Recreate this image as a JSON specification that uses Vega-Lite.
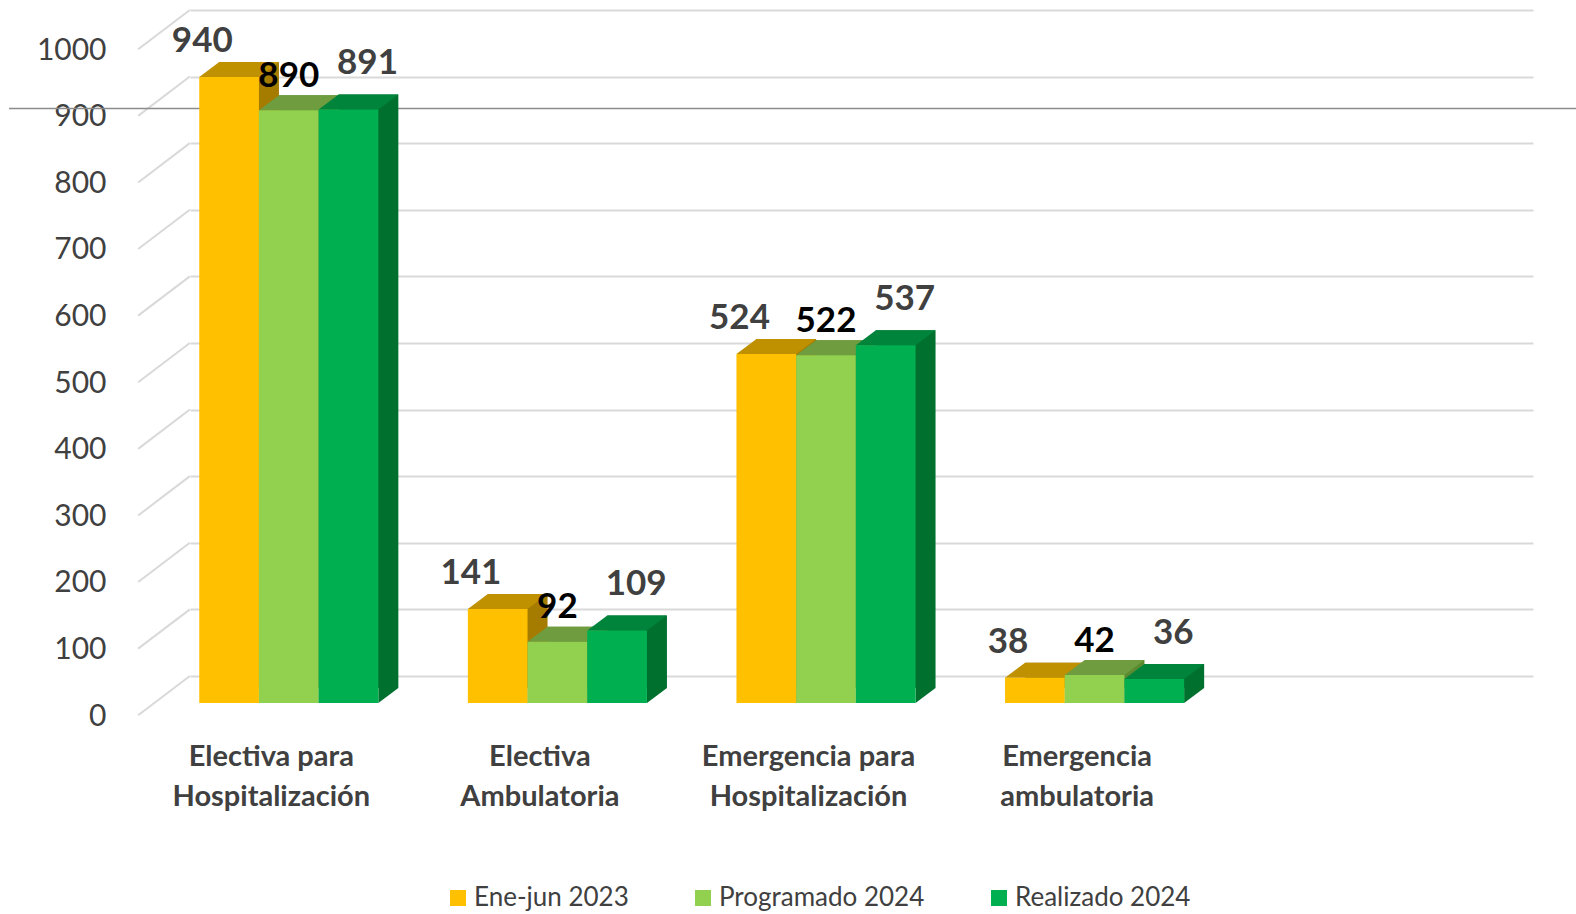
{
  "$schema": "https://vega.github.io/schema/vega-lite/v6.json",
  "autosize": {"type": "none"},
  "padding": {"left": 190, "top": 10, "right": 43, "bottom": 238},
  "width": 1343,
  "height": 666,
  "background": "white",
  "datasets": {
    "bars": [
      {"cat": "Electiva para Hospitalización", "serie": "Ene-jun 2023", "v": 940},
      {"cat": "Electiva para Hospitalización", "serie": "Programado 2024", "v": 890},
      {"cat": "Electiva para Hospitalización", "serie": "Realizado 2024", "v": 891},
      {"cat": "Electiva Ambulatoria", "serie": "Ene-jun 2023", "v": 141},
      {"cat": "Electiva Ambulatoria", "serie": "Programado 2024", "v": 92},
      {"cat": "Electiva Ambulatoria", "serie": "Realizado 2024", "v": 109},
      {"cat": "Emergencia para Hospitalización", "serie": "Ene-jun 2023", "v": 524},
      {"cat": "Emergencia para Hospitalización", "serie": "Programado 2024", "v": 522},
      {"cat": "Emergencia para Hospitalización", "serie": "Realizado 2024", "v": 537},
      {"cat": "Emergencia ambulatoria", "serie": "Ene-jun 2023", "v": 38},
      {"cat": "Emergencia ambulatoria", "serie": "Programado 2024", "v": 42},
      {"cat": "Emergencia ambulatoria", "serie": "Realizado 2024", "v": 36}
    ],
    "grid": [
      {"g": 0}, {"g": 100}, {"g": 200}, {"g": 300}, {"g": 400}, {"g": 500},
      {"g": 600}, {"g": 700}, {"g": 800}, {"g": 900}, {"g": 1000}
    ],
    "ref": [{"r": 891}]
  },
  "data": {"name": "bars"},
  "encoding": {
    "x": {
      "field": "cat", "type": "nominal",
      "scale": {"type": "band", "domain": ["Electiva para Hospitalización", "Electiva Ambulatoria", "Emergencia para Hospitalización", "Emergencia ambulatoria", ""], "paddingInner": 0, "paddingOuter": 0},
      "axis": {"title": null, "labelAngle": 0, "labelExpr": "datum.label === '' ? '' : [slice(datum.label, 0, lastindexof(datum.label, ' ')), slice(datum.label, lastindexof(datum.label, ' ') + 1)]", "labelFont": "Lato", "labelFontWeight": "bold", "labelFontSize": 29, "labelColor": "#404040", "labelLineHeight": 40, "labelBaseline": "top", "labelPadding": 66, "labelOffset": -53, "domain": false, "ticks": false, "grid": false, "labelLimit": 500, "labelOverlap": false}
    },
    "y": {
      "field": "v", "type": "quantitative", "stack": null,
      "scale": {"domain": [0, 1000], "nice": false},
      "axis": {"title": null, "format": "d", "grid": true, "gridColor": "#D9D9D9", "gridWidth": 2, "domain": false, "ticks": false, "labelFont": "Lato", "labelFontSize": 30, "labelColor": "#404040", "labelPadding": 84, "labelOffset": 40, "values": [0, 100, 200, 300, 400, 500, 600, 700, 800, 900, 1000]}
    }
  },
  "layer": [
    {
      "data": {"name": "grid"},
      "mark": {"type": "point", "shape": "M -0.517 0.393 L 0.517 -0.393", "size": 10000, "filled": false, "stroke": "#D9D9D9", "strokeWidth": 2, "opacity": 1, "xOffset": -26, "yOffset": 19.6},
      "encoding": {
        "x": {"datum": "Electiva para Hospitalización", "type": "nominal", "bandPosition": 0, "title": null},
        "y": {"field": "g", "type": "quantitative", "title": null}
      }
    },
    {
      "data": {"name": "ref"},
      "mark": {"type": "point", "shape": "M -1 0 L 1 0", "size": 2455489, "filled": false, "stroke": "#8C8C8C", "strokeWidth": 1.5, "opacity": 1, "xOffset": 602.5, "yOffset": 26},
      "encoding": {
        "x": {"datum": "Electiva para Hospitalización", "type": "nominal", "bandPosition": 0, "title": null},
        "y": {"field": "r", "type": "quantitative", "title": null}
      }
    },
    {"transform": [{"filter": "datum.serie === 'Ene-jun 2023'"}], "mark": {"type": "bar", "width": 59.7, "color": "#A67C00", "xOffset": -75.2, "yOffset": 12, "y2Offset": 12}, "encoding": {"y2": {"datum": 0}}},
    {"transform": [{"filter": "datum.serie === 'Ene-jun 2023'"}], "mark": {"type": "point", "shape": "M -0.597 0 L 0.597 0 L 0.997 -0.3 L -0.197 -0.3 Z", "size": 10000, "filled": true, "color": "#BF9000", "opacity": 1, "strokeWidth": 0, "xOffset": -95.2, "yOffset": 27}},
    {"transform": [{"filter": "datum.serie === 'Ene-jun 2023'"}], "mark": {"type": "point", "shape": "M 0.597 -0.3 L 0.597 0 L 0.997 -0.3 Z", "size": 10000, "filled": true, "color": "#A67C00", "opacity": 1, "strokeWidth": 0, "xOffset": -95.2, "yOffset": 27}, "encoding": {"y": {"datum": 0, "type": "quantitative", "title": null}}},
    {"transform": [{"filter": "datum.serie === 'Ene-jun 2023'"}], "mark": {"type": "bar", "width": 59.7, "xOffset": -95.2, "yOffset": 27, "y2Offset": 27},
     "encoding": {"y2": {"datum": 0}, "color": {"field": "serie", "type": "nominal", "scale": {"domain": ["Ene-jun 2023", "Programado 2024", "Realizado 2024"], "range": ["#FFC000", "#92D050", "#00B050"]}, "legend": {"title": null}}}},

    {"transform": [{"filter": "datum.serie === 'Programado 2024'"}], "mark": {"type": "bar", "width": 59.7, "color": "#5B8A30", "xOffset": -15.5, "yOffset": 12, "y2Offset": 12}, "encoding": {"y2": {"datum": 0}}},
    {"transform": [{"filter": "datum.serie === 'Programado 2024'"}], "mark": {"type": "point", "shape": "M -0.597 0 L 0.597 0 L 0.997 -0.3 L -0.197 -0.3 Z", "size": 10000, "filled": true, "color": "#6E9C3E", "opacity": 1, "strokeWidth": 0, "xOffset": -35.5, "yOffset": 27}},
    {"transform": [{"filter": "datum.serie === 'Programado 2024'"}], "mark": {"type": "point", "shape": "M 0.597 -0.3 L 0.597 0 L 0.997 -0.3 Z", "size": 10000, "filled": true, "color": "#5B8A30", "opacity": 1, "strokeWidth": 0, "xOffset": -35.5, "yOffset": 27}, "encoding": {"y": {"datum": 0, "type": "quantitative", "title": null}}},
    {"transform": [{"filter": "datum.serie === 'Programado 2024'"}], "mark": {"type": "bar", "width": 59.7, "xOffset": -35.5, "yOffset": 27, "y2Offset": 27},
     "encoding": {"y2": {"datum": 0}, "color": {"field": "serie", "type": "nominal", "scale": {"domain": ["Ene-jun 2023", "Programado 2024", "Realizado 2024"], "range": ["#FFC000", "#92D050", "#00B050"]}, "legend": {"title": null}}}},

    {"transform": [{"filter": "datum.serie === 'Realizado 2024'"}], "mark": {"type": "bar", "width": 59.7, "color": "#00702F", "xOffset": 44.2, "yOffset": 12, "y2Offset": 12}, "encoding": {"y2": {"datum": 0}}},
    {"transform": [{"filter": "datum.serie === 'Realizado 2024'"}], "mark": {"type": "point", "shape": "M -0.597 0 L 0.597 0 L 0.997 -0.3 L -0.197 -0.3 Z", "size": 10000, "filled": true, "color": "#00843C", "opacity": 1, "strokeWidth": 0, "xOffset": 24.2, "yOffset": 27}},
    {"transform": [{"filter": "datum.serie === 'Realizado 2024'"}], "mark": {"type": "point", "shape": "M 0.597 -0.3 L 0.597 0 L 0.997 -0.3 Z", "size": 10000, "filled": true, "color": "#00702F", "opacity": 1, "strokeWidth": 0, "xOffset": 24.2, "yOffset": 27}, "encoding": {"y": {"datum": 0, "type": "quantitative", "title": null}}},
    {"transform": [{"filter": "datum.serie === 'Realizado 2024'"}], "mark": {"type": "bar", "width": 59.7, "xOffset": 24.2, "yOffset": 27, "y2Offset": 27},
     "encoding": {"y2": {"datum": 0}, "color": {"field": "serie", "type": "nominal", "scale": {"domain": ["Ene-jun 2023", "Programado 2024", "Realizado 2024"], "range": ["#FFC000", "#92D050", "#00B050"]}, "legend": {"title": null}}}},

    {"transform": [{"filter": "datum.serie === 'Ene-jun 2023'"}], "mark": {"type": "text", "font": "Lato", "fontWeight": "bold", "fontSize": 35, "color": "#404040", "baseline": "middle", "align": "center", "xOffset": -122, "yOffset": -9}, "encoding": {"text": {"field": "v", "type": "quantitative"}}},
    {"transform": [{"filter": "datum.serie === 'Programado 2024'"}], "mark": {"type": "text", "font": "Lato", "fontWeight": "bold", "fontSize": 35, "color": "#000000", "baseline": "middle", "align": "center", "xOffset": -35.5, "yOffset": -7.5}, "encoding": {"text": {"field": "v", "type": "quantitative"}}},
    {"transform": [{"filter": "datum.serie === 'Realizado 2024'"}], "mark": {"type": "text", "font": "Lato", "fontWeight": "bold", "fontSize": 35, "color": "#404040", "baseline": "middle", "align": "center", "xOffset": 43.2, "yOffset": -19.5}, "encoding": {"text": {"field": "v", "type": "quantitative"}}}
  ],
  "config": {
    "view": {"stroke": null},
    "legend": {"orient": "none", "legendX": 255, "legendY": 875, "direction": "horizontal", "columns": 3, "symbolType": "square", "symbolSize": 256, "symbolStrokeWidth": 0, "labelFont": "Lato", "labelFontSize": 26, "labelColor": "#404040", "labelOffset": 3, "labelLimit": 400, "columnPadding": 61}
  }
}
